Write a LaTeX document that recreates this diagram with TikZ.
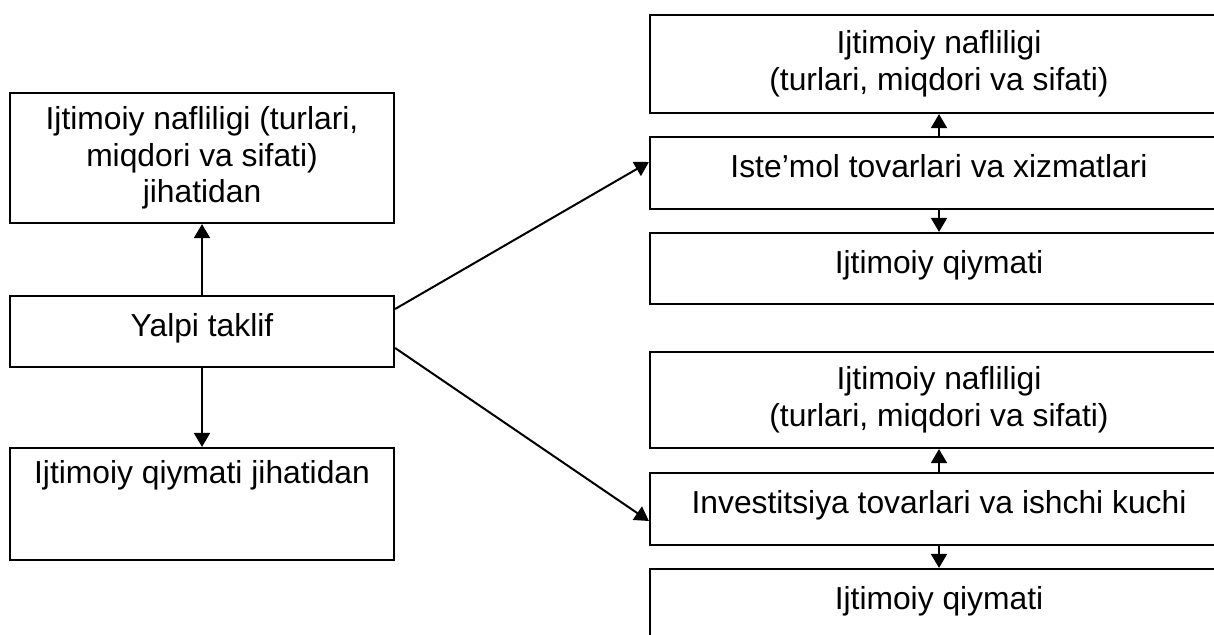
\documentclass[tikz,border=0pt]{standalone}
\usepackage{fontspec}
\setmainfont{Liberation Sans}
\usetikzlibrary{arrows.meta}

\begin{document}
\begin{tikzpicture}[x=1pt, y=-1pt, >={Triangle[length=14pt, width=16pt]},
  font=\fontsize{31.8}{36.6}\selectfont,
  box/.style={draw, line width=2.2pt, inner sep=0pt, align=center},
  leftbox/.style={box, minimum width=384pt},
  rightbox/.style={box, minimum width=578pt},
  oneline/.style={text height=40pt},
  link/.style={->, line width=2pt}]

\useasboundingbox (0,0) rectangle (1214,634);

% Left column
\node[leftbox, minimum height=130pt] (lnaf) at (202,158)
  {Ijtimoiy nafliligi (turlari,\\miqdori va sifati)\\jihatidan};
\node[leftbox, oneline, text depth=31pt] (yalpi) at (202,331.5) {Yalpi taklif};
\node[leftbox, text height=35pt, text depth=77pt] (lqiy) at (202,504)
  {Ijtimoiy qiymati jihatidan};

% Right column, upper group
\node[rightbox, minimum height=98pt] (unaf) at (939,64)
  {Ijtimoiy nafliligi\\(turlari, miqdori va sifati)};
\node[rightbox, oneline, text depth=32pt] (istemol) at (939,173)
  {Iste’mol tovarlari va xizmatlari};
\node[rightbox, oneline, text depth=31pt] (uqiy) at (939,268.5) {Ijtimoiy qiymati};

% Right column, lower group
\node[rightbox, minimum height=96pt] (dnaf) at (939,400)
  {Ijtimoiy nafliligi\\(turlari, miqdori va sifati)};
\node[rightbox, oneline, text depth=32pt] (invest) at (939,509)
  {Investitsiya tovarlari va ishchi kuchi};
\node[rightbox, oneline, text depth=72pt] (dqiy) at (939,625) {Ijtimoiy qiymati};

% Connectors
\draw[link] (yalpi) -- (lnaf);
\draw[link] (yalpi) -- (lqiy);
\draw[link] ([yshift=22.5pt]yalpi.east) -- ([yshift=11pt]istemol.west);
\draw[link] ([yshift=-16.5pt]yalpi.east) -- ([yshift=-12pt]invest.west);
\draw[link] (istemol) -- (unaf);
\draw[link] (istemol) -- (uqiy);
\draw[link] (invest) -- (dnaf);
\draw[link] (invest) -- (dqiy);

\end{tikzpicture}
\end{document}
